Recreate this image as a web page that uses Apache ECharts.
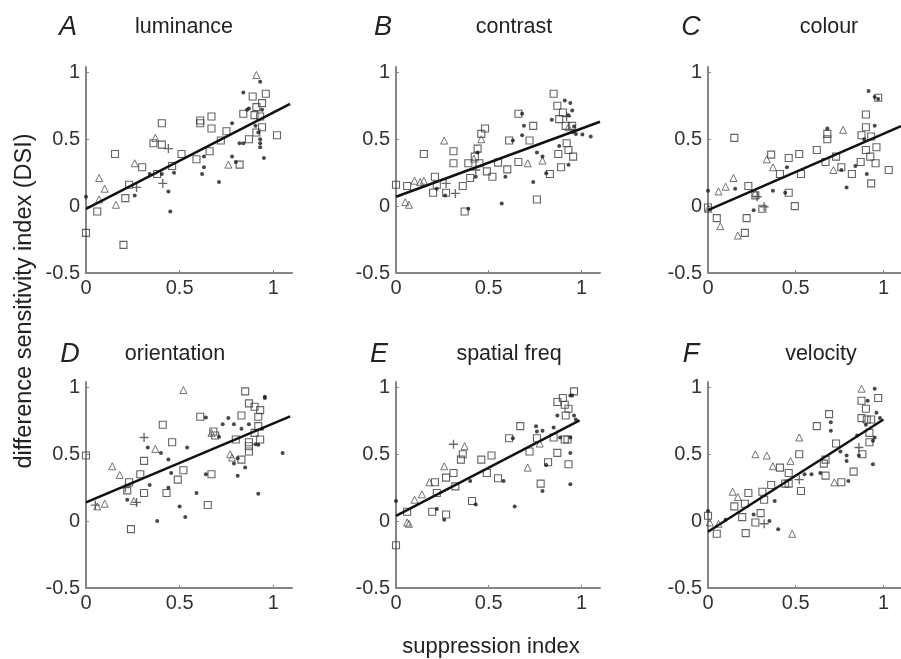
<!DOCTYPE html>
<html>
<head>
<meta charset="utf-8">
<script src="https://cdn.jsdelivr.net/npm/echarts@6/dist/echarts.min.js"></script>
<style>
  html, body { margin: 0; padding: 0; background: #fff; }
  #chart { width: 901px; height: 659px; }
</style>
</head>
<body>
<div id="chart"></div>
<script>
// panel names, letters and tick values
const panelLetters = ["A", "B", "C", "D", "E", "F"];
const panelNames = ["luminance", "contrast", "colour", "orientation", "spatial freq", "velocity"];
const xTicks = [0, 0.5, 1];
const yTicks = [-0.5, 0, 0.5, 1];

// regression lines: intercept, slope, x where the line stops
const fitIntercept = [-0.02, 0.07, -0.03, 0.14, 0.04, -0.08];
const fitSlope = [0.72, 0.51, 0.57, 0.59, 0.72, 0.84];
const fitXEnd = [1.09, 1.1, 1.1, 1.09, 0.99, 1.0];

// A luminance
const lumSquares = [[0,-0.20],[0.06,-0.04],[0.155,0.39],[0.21,0.06],[0.23,0.16],[0.20,-0.29],[0.30,0.29],[0.38,0.24],[0.36,0.47],[0.405,0.46],[0.405,0.62],[0.46,0.30],[0.51,0.39],[0.59,0.35],[0.61,0.62],[0.61,0.64],[0.67,0.67],[0.67,0.58],[0.66,0.41],[0.72,0.49],[0.75,0.56],[0.82,0.31],[0.84,0.69],[0.87,0.50],[0.89,0.82],[0.90,0.68],[0.91,0.74],[0.93,0.67],[0.94,0.59],[0.94,0.77],[0.96,0.84],[1.02,0.53],[0.91,0.55]];
const lumTriangles = [[0.07,0.21],[0.10,0.13],[0.16,0.01],[0.26,0.32],[0.37,0.51],[0.76,0.31],[0.91,0.98],[0.07,0.05]];
const lumPlus = [[0.27,0.14],[0.41,0.17],[0.44,0.43]];
const lumDots = [[0,0.07],[0.26,0.08],[0.34,0.24],[0.405,0.24],[0.44,0.11],[0.45,-0.04],[0.47,0.25],[0.62,0.24],[0.63,0.29],[0.63,0.37],[0.71,0.18],[0.78,0.62],[0.78,0.37],[0.80,0.33],[0.82,0.47],[0.84,0.85],[0.87,0.73],[0.84,0.47],[0.905,0.60],[0.92,0.55],[0.93,0.50],[0.93,0.47],[0.93,0.44],[0.95,0.36],[0.93,0.93],[0.94,0.72],[0.86,0.72]];

// B contrast
const conSquares = [[0,0.16],[0.06,0.15],[0.15,0.39],[0.20,0.10],[0.21,0.22],[0.22,0.16],[0.27,0.10],[0.31,0.41],[0.31,0.32],[0.36,0.15],[0.37,-0.04],[0.39,0.32],[0.40,0.21],[0.425,0.37],[0.44,0.43],[0.46,0.54],[0.48,0.58],[0.45,0.32],[0.49,0.26],[0.52,0.22],[0.55,0.325],[0.60,0.275],[0.61,0.49],[0.66,0.33],[0.66,0.69],[0.72,0.49],[0.74,0.60],[0.76,0.05],[0.83,0.24],[0.85,0.84],[0.87,0.75],[0.875,0.39],[0.89,0.29],[0.90,0.70],[0.88,0.65],[0.92,0.47],[0.93,0.42],[0.95,0.60],[0.955,0.37],[0.915,0.60]];
const conTriangles = [[0.05,0.03],[0.07,0.01],[0.10,0.19],[0.13,0.18],[0.15,0.19],[0.26,0.49],[0.42,0.355],[0.46,0.50],[0.71,0.32],[0.79,0.34],[0.93,0.59]];
const conPlus = [[0.27,0.17],[0.32,0.095],[0.43,0.27],[0.92,0.67]];
const conDots = [[0.22,0.13],[0.265,0.08],[0.39,-0.02],[0.43,0.22],[0.44,0.40],[0.57,0.02],[0.59,0.22],[0.63,0.49],[0.68,0.69],[0.68,0.53],[0.69,0.60],[0.76,0.40],[0.79,0.37],[0.81,0.245],[0.84,0.645],[0.88,0.45],[0.91,0.79],[0.94,0.77],[0.95,0.715],[0.93,0.31],[0.96,0.595],[0.97,0.54],[0.955,0.555],[1.005,0.535],[1.05,0.52],[0.93,0.68],[0.74,0.18]];

// C colour
const colSquares = [[0,-0.01],[0.05,-0.09],[0.15,0.51],[0.23,0.15],[0.22,-0.09],[0.21,-0.20],[0.27,0.08],[0.31,-0.02],[0.36,0.385],[0.41,0.24],[0.46,0.36],[0.46,0.10],[0.495,0.0],[0.52,0.39],[0.53,0.24],[0.62,0.42],[0.67,0.33],[0.68,0.54],[0.68,0.50],[0.73,0.37],[0.76,0.29],[0.82,0.24],[0.87,0.33],[0.90,0.685],[0.90,0.59],[0.90,0.42],[0.875,0.53],[0.925,0.37],[0.93,0.17],[0.955,0.32],[0.96,0.44],[0.93,0.52],[0.97,0.81],[1.03,0.27]];
const colTriangles = [[0.07,-0.15],[0.06,0.11],[0.10,0.145],[0.145,0.21],[0.17,-0.22],[0.27,0.10],[0.335,0.35],[0.37,0.29],[0.715,0.27],[0.77,0.57],[0,-0.02]];
const colPlus = [[0.32,-0.005],[0.28,0.07]];
const colDots = [[0,0.115],[0.155,0.13],[0.26,-0.03],[0.37,0.115],[0.45,0.29],[0.44,0.10],[0.68,0.58],[0.76,0.27],[0.79,0.14],[0.84,0.30],[0.89,0.50],[0.905,0.24],[0.915,0.86],[0.95,0.60],[0.95,0.815],[0.97,0.80]];

// D orientation
const oriSquares = [[0,0.49],[0.24,-0.06],[0.22,0.23],[0.23,0.29],[0.29,0.35],[0.31,0.45],[0.31,0.21],[0.41,0.72],[0.43,0.21],[0.46,0.59],[0.49,0.31],[0.52,0.38],[0.61,0.78],[0.65,0.12],[0.67,0.35],[0.68,0.67],[0.69,0.64],[0.80,0.61],[0.83,0.79],[0.83,0.46],[0.85,0.97],[0.87,0.88],[0.87,0.59],[0.87,0.52],[0.90,0.855],[0.90,0.66],[0.93,0.83],[0.92,0.78],[0.93,0.61],[0.92,0.71],[0.87,0.56]];
const oriTriangles = [[0.06,0.11],[0.10,0.13],[0.14,0.41],[0.18,0.345],[0.255,0.15],[0.37,0.54],[0.52,0.98],[0.67,0.66],[0.77,0.50],[0.78,0.475]];
const oriPlus = [[0.31,0.625],[0.27,0.14],[0.21,0.25],[0.05,0.12]];
const oriDots = [[0.22,0.16],[0.34,0.27],[0.33,0.55],[0.38,0.0],[0.40,0.51],[0.44,0.46],[0.455,0.36],[0.44,0.25],[0.50,0.11],[0.53,0.03],[0.54,0.55],[0.59,0.21],[0.64,0.775],[0.64,0.35],[0.73,0.725],[0.76,0.77],[0.79,0.725],[0.81,0.34],[0.79,0.43],[0.83,0.69],[0.85,0.40],[0.87,0.725],[0.905,0.575],[0.92,0.57],[0.92,0.205],[0.955,0.93],[0.955,0.92],[0.94,0.69],[1.05,0.51],[0.71,0.63],[0.81,0.47]];

// E spatial freq
const sfSquares = [[0,-0.18],[0.06,0.07],[0.195,0.07],[0.21,0.29],[0.22,0.21],[0.27,0.05],[0.27,0.325],[0.31,0.36],[0.32,0.26],[0.35,0.46],[0.36,0.50],[0.41,0.15],[0.46,0.46],[0.49,0.36],[0.515,0.49],[0.55,0.32],[0.61,0.62],[0.67,0.71],[0.72,0.52],[0.76,0.62],[0.78,0.28],[0.82,0.44],[0.87,0.51],[0.85,0.625],[0.87,0.89],[0.90,0.92],[0.915,0.79],[0.91,0.87],[0.925,0.61],[0.93,0.425],[0.93,0.84],[0.96,0.97],[0.91,0.61]];
const sfTriangles = [[0.06,-0.01],[0.07,-0.02],[0.10,0.16],[0.14,0.20],[0.18,0.29],[0.26,0.41],[0.37,0.56],[0.71,0.40],[0.775,0.58]];
const sfPlus = [[0.31,0.575]];
const sfDots = [[0,0.15],[0.22,0.09],[0.26,0.01],[0.40,0.30],[0.43,0.125],[0.58,0.30],[0.63,0.62],[0.64,0.11],[0.755,0.71],[0.76,0.67],[0.79,0.675],[0.79,0.225],[0.81,0.42],[0.85,0.70],[0.87,0.79],[0.94,0.94],[0.94,0.625],[0.94,0.51],[0.94,0.275],[0.96,0.79],[0.95,0.94],[0.97,0.76],[0.885,0.625]];

// F velocity
const velSquares = [[0,0.04],[0.05,-0.095],[0.15,0.11],[0.195,0.03],[0.21,0.13],[0.215,-0.09],[0.23,0.21],[0.27,-0.01],[0.30,0.06],[0.31,0.22],[0.32,0.16],[0.36,0.27],[0.41,0.40],[0.44,0.28],[0.46,0.36],[0.46,0.28],[0.52,0.50],[0.53,0.225],[0.62,0.71],[0.66,0.43],[0.67,0.46],[0.67,0.34],[0.69,0.80],[0.73,0.58],[0.76,0.29],[0.83,0.37],[0.875,0.90],[0.875,0.77],[0.88,0.50],[0.90,0.84],[0.905,0.76],[0.93,0.76],[0.92,0.66],[0.97,0.92],[0.92,0.59]];
const velTriangles = [[0.01,-0.01],[0.06,-0.02],[0.14,0.22],[0.17,0.18],[0.27,0.50],[0.335,0.49],[0.37,0.41],[0.47,0.45],[0.48,-0.095],[0.52,0.625],[0.72,0.29],[0.875,0.99]];
const velPlus = [[0.32,-0.02],[0.52,0.31],[0.86,0.55]];
const velDots = [[0,0.075],[0.10,0.01],[0.26,0.05],[0.35,0.0],[0.38,0.15],[0.40,-0.06],[0.55,0.35],[0.59,0.35],[0.64,0.36],[0.70,0.74],[0.70,0.675],[0.755,0.52],[0.79,0.49],[0.79,0.45],[0.80,0.30],[0.85,0.64],[0.86,0.49],[0.91,0.90],[0.95,0.99],[0.94,0.60],[0.94,0.425],[0.96,0.81],[0.98,0.77],[0.90,0.72],[0.95,0.625]];

const squares = [lumSquares, conSquares, colSquares, oriSquares, sfSquares, velSquares];
const triangles = [lumTriangles, conTriangles, colTriangles, oriTriangles, sfTriangles, velTriangles];
const pluses = [lumPlus, conPlus, colPlus, oriPlus, sfPlus, velPlus];
const dots = [lumDots, conDots, colDots, oriDots, sfDots, velDots];

const chart = echarts.init(document.getElementById("chart"));

const gridLeft = [86, 396, 708];
const gridWidth = [206, 204, 202];
const gridTop = [67, 382];
const plusPath = "path://M3.4,0H4.6V3.4H8V4.6H4.6V8H3.4V4.6H0V3.4H3.4Z";
const labelFont = "Liberation Sans, Arial, sans-serif";

const grids = [], xAxes = [], yAxes = [], series = [], graphics = [];

function onTick(list) {
  return function (v) {
    return list.some(t => Math.abs(t - v) < 1e-6) ? String(v) : "";
  };
}

for (let i = 0; i < 6; i++) {
  const col = i % 3, row = Math.floor(i / 3);
  grids.push({ left: gridLeft[col], top: gridTop[row], width: gridWidth[col], height: 206 });
  xAxes.push({
    type: "value", gridIndex: i, min: 0, max: 1.1, interval: 0.5,
    splitLine: { show: false },
    axisLine: { onZero: false, lineStyle: { color: "#858585", width: 2 } },
    axisTick: { inside: true, length: 3, lineStyle: { color: "#858585" } },
    axisLabel: { color: "#333", fontSize: 20, fontFamily: labelFont, margin: 5, showMaxLabel: false, formatter: onTick(xTicks) }
  });
  yAxes.push({
    type: "value", gridIndex: i, min: -0.5, max: 1.04, interval: 0.5,
    splitLine: { show: false },
    axisLine: { show: true, onZero: false, lineStyle: { color: "#858585", width: 2 } },
    axisTick: { inside: true, length: 3, lineStyle: { color: "#858585" } },
    axisLabel: { color: "#333", fontSize: 20, fontFamily: labelFont, margin: 6, showMaxLabel: false, formatter: onTick(yTicks) }
  });

  series.push({
    type: "scatter", xAxisIndex: i, yAxisIndex: i, data: squares[i],
    symbol: "rect", symbolSize: 7,
    itemStyle: { color: "rgba(0,0,0,0)", borderColor: "#3c3c3c", borderWidth: 1.1 }
  });
  series.push({
    type: "scatter", xAxisIndex: i, yAxisIndex: i, data: triangles[i],
    symbol: "triangle", symbolSize: 7,
    itemStyle: { color: "rgba(0,0,0,0)", borderColor: "#505050", borderWidth: 1 }
  });
  series.push({
    type: "scatter", xAxisIndex: i, yAxisIndex: i, data: pluses[i],
    symbol: plusPath, symbolSize: 9,
    itemStyle: { color: "#444" }
  });
  series.push({
    type: "scatter", xAxisIndex: i, yAxisIndex: i, data: dots[i],
    symbol: "circle", symbolSize: 4,
    itemStyle: { color: "#1a1a1a" }
  });
  series.push({
    type: "line", xAxisIndex: i, yAxisIndex: i,
    data: [[0, fitIntercept[i]], [fitXEnd[i], fitIntercept[i] + fitSlope[i] * fitXEnd[i]]],
    symbol: "none", lineStyle: { color: "#111", width: 2.5 }, z: 5
  });
}

const letterPos = [[68, 27], [383, 27], [691, 27], [70, 354], [379, 354], [691, 354]];
const namePos = [[184, 27], [514, 27], [829, 27], [175, 354], [509, 354], [821, 354]];

function textEl(text, x, y, font, rotation) {
  return {
    type: "text", x: x, y: y, rotation: rotation || 0,
    style: {
      text: text, font: font, fill: "#222",
      align: "center", verticalAlign: "middle",
      textAlign: "center", textVerticalAlign: "middle"
    }
  };
}

for (let i = 0; i < 6; i++) {
  graphics.push(textEl(panelLetters[i], letterPos[i][0], letterPos[i][1], "italic 27px " + labelFont));
  graphics.push(textEl(panelNames[i], namePos[i][0], namePos[i][1], "21.5px " + labelFont));
}
graphics.push(textEl("difference sensitivity index (DSI)", 25, 301, "23.5px " + labelFont, Math.PI / 2));
graphics.push(textEl("suppression index", 491, 647, "22px " + labelFont));

chart.setOption({
  animation: false,
  backgroundColor: "#fff",
  grid: grids,
  xAxis: xAxes,
  yAxis: yAxes,
  series: series,
  graphic: graphics
});
</script>
</body>
</html>
